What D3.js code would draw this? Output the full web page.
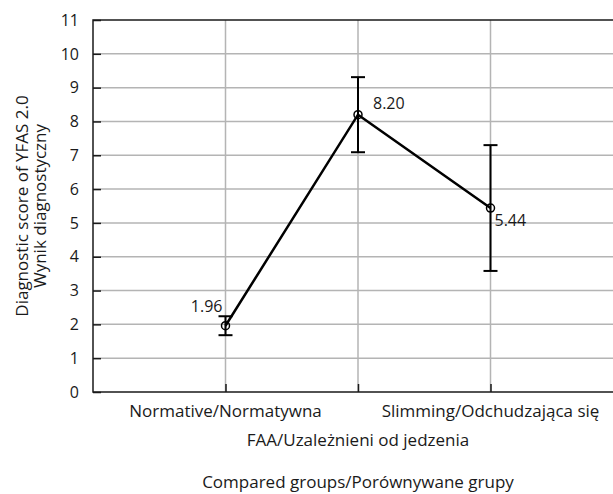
<!DOCTYPE html>
<html>
<head>
<meta charset="utf-8">
<script src="https://cdn.jsdelivr.net/npm/d3@7"></script>
<style>
  body { margin: 0; background: #fff; }
  svg text { font-family: "Open Sans", sans-serif; fill: #1a1a1a; }
</style>
</head>
<body>
<svg id="canvas" width="613" height="494"></svg>
<script>
// groups on the x axis
var groups = ["Normative/Normatywna", "FAA/Uzależnieni od jedzenia", "Slimming/Odchudzająca się"];
// mean diagnostic score per group
var means = [1.96, 8.20, 5.44];
// half-length of the error bars
var errors = [0.28, 1.11, 1.86];
var yTicks = [0, 1, 2, 3, 4, 5, 6, 7, 8, 9, 10, 11];

var svg = d3.select("#canvas");
var plotLeft = 93, plotTop = 20, plotBottom = 392;

var x = d3.scalePoint()
    .domain(groups)
    .range([plotLeft, 623])
    .padding(1);

var y = d3.scaleLinear()
    .domain([0, 11])
    .range([plotBottom, plotTop]);

// horizontal grid
svg.append("g").selectAll("line")
  .data(yTicks.slice(1, -1))
  .enter().append("line")
    .attr("x1", plotLeft).attr("x2", 613)
    .attr("y1", function(d) { return y(d); })
    .attr("y2", function(d) { return y(d); })
    .attr("stroke", "#b4b4b4")
    .attr("stroke-width", 1.5);

// vertical grid
svg.append("g").selectAll("line")
  .data(groups)
  .enter().append("line")
    .attr("x1", function(d) { return x(d); })
    .attr("x2", function(d) { return x(d); })
    .attr("y1", plotTop).attr("y2", plotBottom)
    .attr("stroke", "#b4b4b4")
    .attr("stroke-width", 1.5);

// y axis with inner ticks
var yAxis = svg.append("g")
    .attr("transform", "translate(" + plotLeft + ",0)")
    .call(d3.axisRight(y).tickValues(yTicks).tickSize(8).tickFormat(""));
yAxis.select(".domain").remove();
yAxis.selectAll("line").attr("stroke", "#1a1a1a").attr("stroke-width", 1.5);

svg.append("g").selectAll("text")
  .data(yTicks)
  .enter().append("text")
    .attr("x", 79)
    .attr("y", function(d) { return y(d); })
    .attr("dy", "0.36em")
    .attr("text-anchor", "end")
    .style("font-size", "16px")
    .text(function(d) { return d; });

// x axis with inner ticks
var xAxis = svg.append("g")
    .attr("transform", "translate(0," + plotBottom + ")")
    .call(d3.axisTop(x).tickSize(8).tickFormat(""));
xAxis.select(".domain").remove();
xAxis.selectAll("line").attr("stroke", "#1a1a1a").attr("stroke-width", 1.5);

// frame: left, top, bottom
svg.append("path")
    .attr("d", "M613," + plotTop + "H" + plotLeft + "V" + plotBottom + "H613")
    .attr("fill", "none")
    .attr("stroke", "#1a1a1a")
    .attr("stroke-width", 1.5);

// category labels, staggered
svg.append("g").selectAll("text")
  .data(groups)
  .enter().append("text")
    .attr("x", function(d) { return x(d); })
    .attr("y", function(d, i) { return i % 2 ? 446 : 417; })
    .attr("text-anchor", "middle")
    .style("font-size", "17px")
    .text(function(d) { return d; });

svg.append("text")
    .attr("x", x(groups[1]))
    .attr("y", 488)
    .attr("text-anchor", "middle")
    .style("font-size", "17px")
    .text("Compared groups/Porównywane grupy");

var yTitle = svg.append("text")
    .attr("transform", "translate(0,206) rotate(-90)")
    .attr("text-anchor", "middle")
    .style("font-size", "17px");
yTitle.append("tspan").attr("x", 0).attr("y", 28).text("Diagnostic score of YFAS 2.0");
yTitle.append("tspan").attr("x", 0).attr("y", 46).text("Wynik diagnostyczny");

var pts = groups.map(function(g, i) { return { g: g, m: means[i], e: errors[i] }; });

// error bars
var eb = svg.append("g").selectAll("g")
  .data(pts)
  .enter().append("g")
    .attr("stroke", "#000")
    .attr("stroke-width", 2);
eb.append("line")
    .attr("x1", function(d) { return x(d.g); })
    .attr("x2", function(d) { return x(d.g); })
    .attr("y1", function(d) { return y(d.m - d.e); })
    .attr("y2", function(d) { return y(d.m + d.e); });
eb.append("line")
    .attr("x1", function(d) { return x(d.g) - 7; })
    .attr("x2", function(d) { return x(d.g) + 7; })
    .attr("y1", function(d) { return y(d.m + d.e); })
    .attr("y2", function(d) { return y(d.m + d.e); });
eb.append("line")
    .attr("x1", function(d) { return x(d.g) - 7; })
    .attr("x2", function(d) { return x(d.g) + 7; })
    .attr("y1", function(d) { return y(d.m - d.e); })
    .attr("y2", function(d) { return y(d.m - d.e); });

// mean line
var line = d3.line()
    .x(function(d) { return x(d.g); })
    .y(function(d) { return y(d.m); });
svg.append("path")
    .datum(pts)
    .attr("d", line)
    .attr("fill", "none")
    .attr("stroke", "#000")
    .attr("stroke-width", 2.5);

svg.append("g").selectAll("circle")
  .data(pts)
  .enter().append("circle")
    .attr("cx", function(d) { return x(d.g); })
    .attr("cy", function(d) { return y(d.m); })
    .attr("r", 4)
    .attr("fill", "none")
    .attr("stroke", "#000")
    .attr("stroke-width", 1.5);

// value labels
var labelPos = [{ dx: -3, dy: -14, a: "end" }, { dx: 15, dy: -6, a: "start" }, { dx: 4, dy: 18, a: "start" }];
svg.append("g").selectAll("text")
  .data(pts)
  .enter().append("text")
    .attr("x", function(d, i) { return x(d.g) + labelPos[i].dx; })
    .attr("y", function(d, i) { return y(d.m) + labelPos[i].dy; })
    .attr("text-anchor", function(d, i) { return labelPos[i].a; })
    .style("font-size", "16px")
    .text(function(d) { return d.m.toFixed(2); });
</script>
</body>
</html>
